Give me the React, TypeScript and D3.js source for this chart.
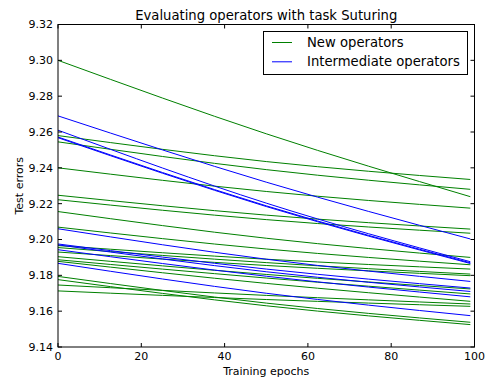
import React from 'react';
import * as d3 from 'd3';

const epochs = [0, 50, 99];

// "New operators" runs: test error at epochs 0, 50, 99
const newOperators = [
  [9.3000, 9.2590, 9.2239],
  [9.2580, 9.2435, 9.2335],
  [9.2545, 9.2390, 9.2280],
  [9.2400, 9.2268, 9.2175],
  [9.2247, 9.2136, 9.2058],
  [9.2222, 9.2111, 9.2035],
  [9.2156, 9.2007, 9.1900],
  [9.2069, 9.1947, 9.1859],
  [9.1966, 9.1890, 9.1835],
  [9.1955, 9.1871, 9.1807],
  [9.1930, 9.1855, 9.1798],
  [9.1904, 9.1805, 9.1724],
  [9.1887, 9.1785, 9.1696],
  [9.1878, 9.1755, 9.1655],
  [9.1794, 9.1645, 9.1538],
  [9.1776, 9.1630, 9.1525],
  [9.1746, 9.1688, 9.1640],
  [9.1713, 9.1665, 9.1627],
];

// "Intermediate operators" runs
const intermediateOperators = [
  [9.2690, 9.2320, 9.2003],
  [9.2610, 9.2203, 9.1876],
  [9.2572, 9.2188, 9.1870],
  [9.2568, 9.2184, 9.1866],
  [9.2060, 9.1890, 9.1766],
  [9.1975, 9.1835, 9.1729],
  [9.1970, 9.1820, 9.1710],
  [9.1943, 9.1795, 9.1680],
  [9.1867, 9.1700, 9.1575],
];

const xTicks = [0, 20, 40, 60, 80, 100];
const yTicks = [9.14, 9.16, 9.18, 9.2, 9.22, 9.24, 9.26, 9.28, 9.3, 9.32];
const legendLabels = ['New operators', 'Intermediate operators'];
const colors = ['#008000', '#0000ff'];

const font = '"DejaVu Sans", sans-serif';

export default function App() {
  const left = 58, right = 474.5, top = 24.5, bottom = 347;

  const x = d3.scaleLinear().domain([0, 100]).range([left, right]);
  const y = d3.scaleLinear().domain([9.14, 9.32]).range([bottom, top]);

  const line = d3.line<number>()
    .x((d, i) => x(epochs[i]))
    .y(d => y(d))
    .curve(d3.curveNatural);

  const tick = 4;

  return (
    <svg width={490} height={380} style={{ position: 'absolute', left: 0, top: 0, background: '#fff' }}
      fontFamily={font}>
      <rect x={0} y={0} width={490} height={380} fill="#fff" />
      <g fill="none" strokeWidth={1}>
        {newOperators.map((s, i) => (
          <path key={'n' + i} d={line(s) || ''} stroke={colors[0]} />
        ))}
        {intermediateOperators.map((s, i) => (
          <path key={'b' + i} d={line(s) || ''} stroke={colors[1]} />
        ))}
      </g>

      {/* frame and ticks */}
      <rect x={left} y={top} width={right - left} height={bottom - top} fill="none" stroke="#000" strokeWidth={1} />
      <g stroke="#000" strokeWidth={1}>
        {xTicks.map(t => (
          <g key={'xt' + t}>
            <line x1={x(t)} x2={x(t)} y1={bottom} y2={bottom - tick} />
            <line x1={x(t)} x2={x(t)} y1={top} y2={top + tick} />
          </g>
        ))}
        {yTicks.map(t => (
          <g key={'yt' + t}>
            <line x1={left} x2={left + tick} y1={y(t)} y2={y(t)} />
            <line x1={right} x2={right - tick} y1={y(t)} y2={y(t)} />
          </g>
        ))}
      </g>
      <g fontSize={11} fill="#000">
        {xTicks.map(t => (
          <text key={'xl' + t} x={x(t)} y={bottom + 13} textAnchor="middle">{t}</text>
        ))}
        {yTicks.map(t => (
          <text key={'yl' + t} x={left - 5} y={y(t)} dy="0.35em" textAnchor="end">{d3.format('.2f')(t)}</text>
        ))}
        <text x={(left + right) / 2} y={375} textAnchor="middle">Training epochs</text>
        <text transform={`translate(23, ${(top + bottom) / 2}) rotate(-90)`} textAnchor="middle">Test errors</text>
      </g>
      <text x={(left + right) / 2} y={19.5} textAnchor="middle" fontSize={13.2}>
        Evaluating operators with task Suturing
      </text>

      {/* legend */}
      <g>
        <rect x={263.5} y={31.5} width={204} height={43} fill="#fff" stroke="#000" strokeWidth={1} />
        {legendLabels.map((l, i) => (
          <g key={l} transform={`translate(0, ${42.5 + i * 19.3})`}>
            <line x1={272} x2={292} y1={0} y2={0} stroke={colors[i]} strokeWidth={1} />
            <text x={307} y={0} dy="0.35em" fontSize={13.2}>{l}</text>
          </g>
        ))}
      </g>
    </svg>
  );
}
